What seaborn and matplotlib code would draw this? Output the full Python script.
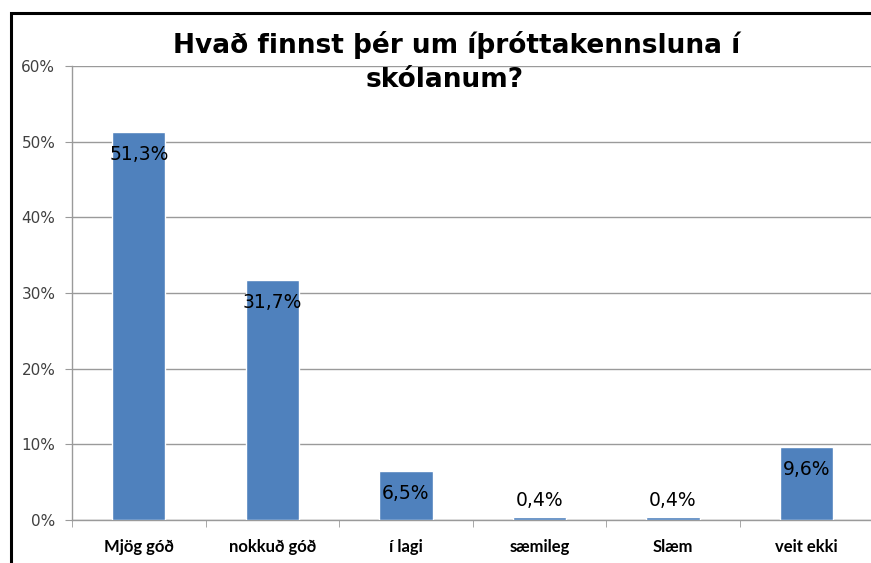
import seaborn as sns
import matplotlib.pyplot as plt
import pandas as pd
from matplotlib.patches import Rectangle
from matplotlib.ticker import FixedLocator, PercentFormatter

categories = ['Mjög góð', 'nokkuð góð', 'í lagi', 'sæmileg', 'Slæm', 'veit ekki']
values = [51.3, 31.7, 6.5, 0.4, 0.4, 9.6]
labels = ['51,3%', '31,7%', '6,5%', '0,4%', '0,4%', '9,6%']
yticks = [0, 10, 20, 30, 40, 50, 60]

df = pd.DataFrame({'svar': categories, 'hlutfall': values})

sns.set_style('white')
plt.rcParams['font.family'] = ['DejaVu Sans']
plt.rcParams['text.color'] = 'black'

fig = plt.figure(figsize=(8.71, 5.63), dpi=100)
ax = fig.add_axes([0.0827, 0.0764, 0.9197, 0.8064])

sns.barplot(data=df, x='svar', y='hlutfall', color='#4F81BD', saturation=1,
            width=0.4, ax=ax, zorder=3)

ax.set_ylim(0, 60)
ax.set_xlim(-0.5, len(categories) - 0.5)
ax.set_yticks(yticks)
ax.yaxis.set_major_formatter(PercentFormatter(decimals=0))
ax.grid(axis='y', color='#9a9a9a', linewidth=1, zorder=0)
ax.set_xlabel('')
ax.set_ylabel('')

for s in ['top', 'right']:
    ax.spines[s].set_visible(False)
for s in ['left', 'bottom']:
    ax.spines[s].set_color('#9a9a9a')
    ax.spines[s].set_linewidth(1)

ax.tick_params(axis='y', length=5, color='#9a9a9a', labelsize=11,
               labelcolor='#404040', left=True, pad=7)
ax.tick_params(axis='x', which='major', length=0, pad=14, labelcolor='black')
ax.xaxis.set_minor_locator(FixedLocator([i - 0.5 for i in range(len(categories) + 1)]))
ax.tick_params(axis='x', which='minor', length=5, color='#9a9a9a', bottom=True)
for t in ax.get_xticklabels():
    t.set_family(['Lato', 'DejaVu Sans'])
    t.set_fontweight('bold')
    t.set_fontsize(12)

for i, (v, lab) in enumerate(zip(values, labels)):
    off = -16 if v > 3 else 12
    ax.annotate(lab, (i, v), xytext=(0, off), textcoords='offset points',
                ha='center', va='center', fontsize=13.5, color='black', zorder=4)

fig.text(0.524, 0.92, 'Hvað finnst þér um íþróttakennsluna í',
         ha='center', va='center', fontsize=19, fontweight='bold')
fig.text(0.51, 0.858, 'skólanum?',
         ha='center', va='center', fontsize=19, fontweight='bold')

fig.add_artist(Rectangle((0.0126, -0.1), 1.1, 1.0769, transform=fig.transFigure,
                         fill=False, edgecolor='black', linewidth=2.2))

fig.savefig('out.png', dpi=100)
